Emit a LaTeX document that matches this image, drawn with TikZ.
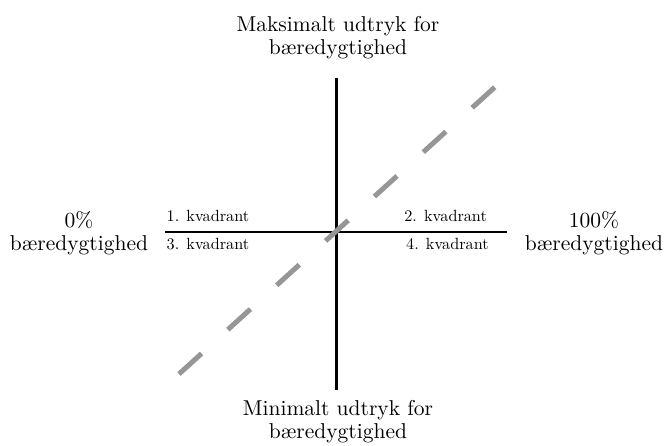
\documentclass[tikz,border=0pt]{standalone}
\usepackage{fontspec}
\setmainfont{lmroman10-regular}[Extension=.otf]
\definecolor{diaggray}{RGB}{150,150,150}
\tikzset{
  axisline/.style={line width=2.6pt, black},
  diagline/.style={line width=5pt, diaggray, dash pattern=on 30.5pt off 35.5pt},
  biglabel/.style={font=\fontsize{21.5}{23}\selectfont, align=center, inner sep=0pt, anchor=base},
  quadlabel/.style={font=\fontsize{16.2}{18}\selectfont, inner sep=0pt},
}
\begin{document}
\begin{tikzpicture}[x=1pt, y=-1pt]
  \useasboundingbox (0,0) rectangle (665,446);

  % axis end points
  \coordinate (top) at (336.5,78);
  \coordinate (bottom) at (336.5,390);
  \coordinate (left) at (165,232);
  \coordinate (right) at (507,232);
  % diagonal end points
  \coordinate (dlow) at (179,374);
  \coordinate (dhigh) at (495,87);

  \draw[axisline] (top) -- (bottom);
  \draw[axisline] (left) -- (right);
  \draw[diagline] (dlow) -- (dhigh);

  % axis titles (placed by the baseline of their last line)
  \node[biglabel] (maxlbl) at (338,54.8) {Maksimalt udtryk for\\bæredygtighed};
  \node[biglabel] (minlbl) at (338,439) {Minimalt udtryk for\\bæredygtighed};
  \node[biglabel] (zerolbl) at (79,250.5) {0\%\\bæredygtighed};
  \node[biglabel] (fulllbl) at (594,250.5) {100\%\\bæredygtighed};

  % quadrant names
  \node[quadlabel, anchor=base west] (q1) at (166.5,221.7) {1. kvadrant};
  \node[quadlabel, anchor=base east] (q2) at (487,221.7) {2. kvadrant};
  \node[quadlabel, anchor=base west] (q3) at (166.5,249.3) {3. kvadrant};
  \node[quadlabel, anchor=base west] (q4) at (406,249.3) {4. kvadrant};
\end{tikzpicture}
\end{document}
